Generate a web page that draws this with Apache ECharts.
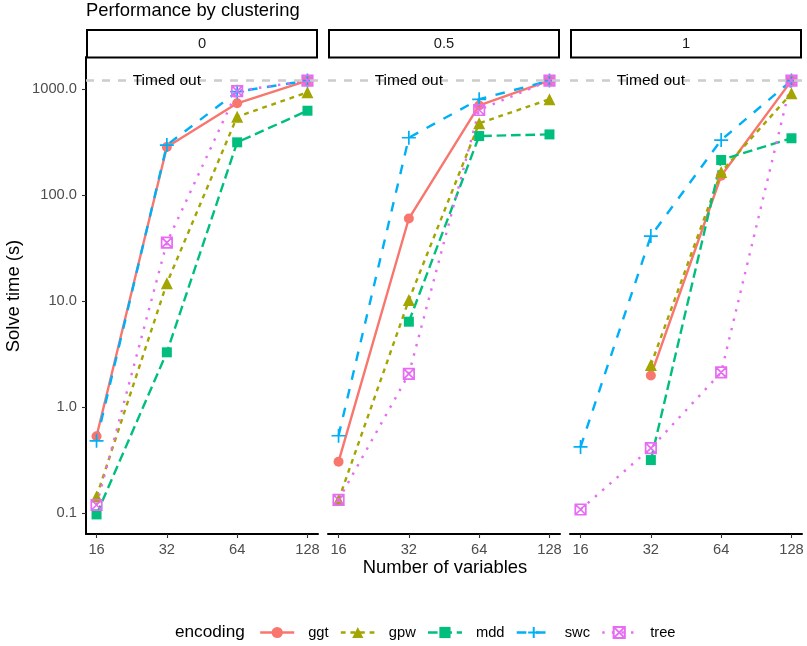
<!DOCTYPE html>
<html><head><meta charset="utf-8">
<script src="https://cdn.jsdelivr.net/npm/echarts@6/dist/echarts.min.js"></script>
<style>html,body{margin:0;padding:0;background:#fff}#c{width:807px;height:646px}</style>
</head><body><div id="c"></div>
<script>
// ---- data ----
const sizes = [16, 32, 64, 128];                 // Number of variables
const clusterings = ['0', '0.5', '1'];           // facet panels
const encodings = ['ggt', 'gpw', 'mdd', 'swc', 'tree'];
const yTicks = [0.1, 1, 10, 100, 1000];
const timeout = 1200;
// solve time (s) per panel [clustering 0, 0.5, 1], per size [16,32,64,128]
const ggt  = [[0.53, 284, 733, 1200], [0.305, 60, 700, 1200], [null, 1.98, 152, 1200]];
const gpw  = [[0.143, 14.7, 548, 931], [0.133, 10.2, 475, 800], [null, 2.49, 165, 911]];
const mdd  = [[0.097, 3.28, 314, 624], [null, 6.38, 360, 373], [null, 0.316, 214, 343]];
const swc  = [[0.48, 296, 943, 1200], [0.536, 347, 800, 1200], [0.42, 41, 330, 1200]];
const tree = [[0.119, 35.5, 957, 1200], [0.133, 2.05, 634, 1200], [0.108, 0.41, 2.12, 1200]];
const values = { ggt, gpw, mdd, swc, tree };

// ---- styles ----
const FONT = 'Liberation Sans';
const LW = 2.4;
const colors = { ggt: '#F8766D', gpw: '#A3A500', mdd: '#00BF7D', swc: '#00B0F6', tree: '#E76BF3' };
const dashes = { ggt: 'solid', gpw: [2 * LW, 2 * LW], mdd: [4 * LW, 2 * LW], swc: [4 * LW, 4 * LW], tree: [LW, 3 * LW] };
const symbols = {
  ggt: 'circle', gpw: 'triangle', mdd: 'rect',
  swc: 'path://M5,0V10M0,5H10',
  tree: 'path://M0,0H10V10H0Z M0,0L10,10 M10,0L0,10'
};
const symSizes = { ggt: 10, gpw: 12, mdd: 10, swc: 14, tree: 10.5 };
const stroked = { swc: true, tree: true };

const PL = [86, 328, 570], PW = 232, PT = 57, PH = 477;

const grids = PL.map(l => ({ left: l, top: PT, width: PW, height: PH }));
const xAxes = PL.map((l, i) => ({
  gridIndex: i, type: 'log', logBase: 2, min: 14.42, max: 142.0,
  axisLine: { lineStyle: { color: '#000', width: 2 } },
  axisTick: { customValues: sizes, length: 4, lineStyle: { color: '#333', width: 1.1 } },
  axisLabel: { customValues: sizes, color: '#4D4D4D', fontSize: 14.7, fontFamily: FONT, margin: 8.5 },
  splitLine: { show: false }
}));
const yAxes = PL.map((l, i) => ({
  gridIndex: i, type: 'log', logBase: 10, min: 0.0634, max: 2004,
  show: i === 0,
  axisLine: { show: true, lineStyle: { color: '#000', width: 2 } },
  axisTick: { customValues: yTicks, length: 4, lineStyle: { color: '#333', width: 1.1 } },
  axisLabel: { customValues: yTicks, color: '#4D4D4D', fontSize: 14.7, fontFamily: FONT, margin: 9,
               formatter: v => Number(v).toFixed(1) },
  splitLine: { show: false }
}));

const series = [];
clusterings.forEach((c, p) => {
  series.push({
    type: 'line', xAxisIndex: p, yAxisIndex: p, data: [], silent: true,
    markLine: {
      silent: true, symbol: 'none', label: { show: false },
      lineStyle: { color: '#CCCCCC', type: [8, 8], width: 2.5 },
      data: [{ yAxis: timeout }]
    },
    markPoint: {
      silent: true, symbol: 'circle', symbolSize: 0,
      label: { show: true, position: 'inside', formatter: 'Timed out', color: '#000',
               fontSize: 15.5, fontFamily: FONT },
      data: [{ coord: [32, timeout] }]
    }
  });
  encodings.forEach(e => {
    const vals = values[e][p];
    series.push({
      type: 'line', name: e, xAxisIndex: p, yAxisIndex: p,
      data: sizes.map((s, k) => [s, vals[k]]).filter(d => d[1] != null),
      symbol: symbols[e], symbolSize: symSizes[e], symbolKeepAspect: true, showSymbol: true,
      lineStyle: { color: colors[e], width: LW, type: dashes[e] },
      itemStyle: stroked[e]
        ? { color: 'rgba(0,0,0,0)', borderColor: colors[e], borderWidth: 1.7 }
        : { color: colors[e] },
      emphasis: { disabled: true }, animation: false
    });
  });
});

const graphics = [
  { type: 'text', x: 86, y: 10.5, style: { text: 'Performance by clustering', font: '18.4px ' + FONT, fill: '#000', textVerticalAlign: 'middle' } },
  { type: 'text', x: 445, y: 568, style: { text: 'Number of variables', font: '18.4px ' + FONT, fill: '#000', textAlign: 'center', textVerticalAlign: 'middle' } },
  { type: 'text', x: 13.5, y: 296, rotation: Math.PI / 2, style: { text: 'Solve time (s)', font: '18.4px ' + FONT, fill: '#000', textAlign: 'center', textVerticalAlign: 'middle' } },
  { type: 'text', x: 175, y: 632, style: { text: 'encoding', font: '17.2px ' + FONT, fill: '#000', textVerticalAlign: 'middle' } }
];
PL.forEach((l, i) => {
  graphics.push({ type: 'rect', shape: { x: l + 1, y: 30, width: PW - 2, height: 27.5 }, style: { fill: '#fff', stroke: '#000', lineWidth: 2 } });
  graphics.push({ type: 'text', x: l + PW / 2, y: 43.5, style: { text: clusterings[i], font: '14.7px ' + FONT, fill: '#1A1A1A', textAlign: 'center', textVerticalAlign: 'middle' } });
});

const chart = echarts.init(document.getElementById('c'), null, { renderer: 'canvas' });
chart.setOption({
  animation: false,
  backgroundColor: '#fff',
  grid: grids, xAxis: xAxes, yAxis: yAxes, series,
  legend: {
    data: encodings, left: 259, top: 625, padding: 0, itemWidth: 34, itemHeight: 14, itemGap: 11,
    selectedMode: false,
    lineStyle: { width: LW },
    textStyle: { fontSize: 14.7, fontFamily: FONT, color: '#000', padding: [0, 0, 0, 9] }
  },
  graphic: graphics
});
</script></body></html>
